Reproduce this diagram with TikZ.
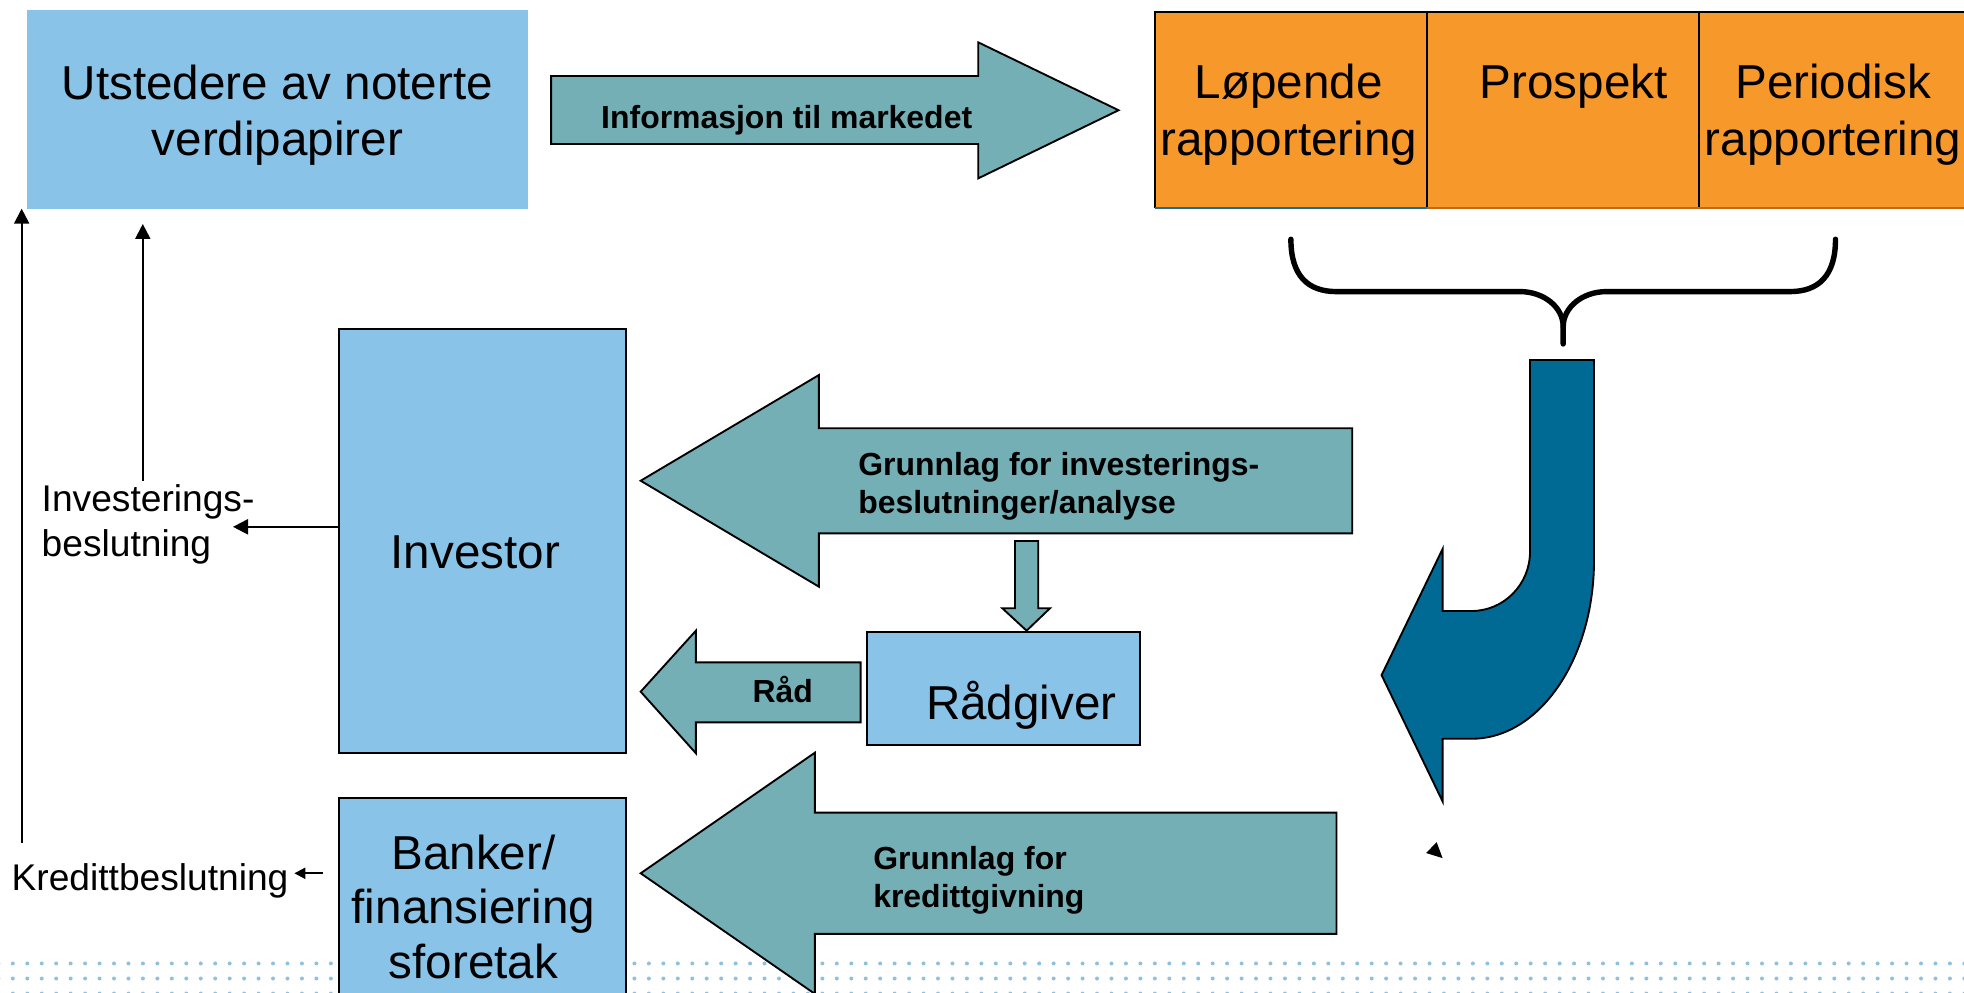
\documentclass[tikz,border=0pt]{standalone}
\usepackage{fontspec}
\setmainfont{Liberation Sans}
\usetikzlibrary{arrows.meta}
\definecolor{boxblue}{RGB}{137,195,232}
\definecolor{tealarrow}{RGB}{116,175,182}
\definecolor{orangebox}{RGB}{247,153,42}
\definecolor{darkarrow}{RGB}{0,105,148}
\definecolor{dotblue}{RGB}{143,192,222}
\definecolor{edgeblue}{RGB}{31,110,140}
\definecolor{edgeorange}{RGB}{196,104,20}
\newcommand{\bigfont}{\fontsize{22.8pt}{26.9pt}\selectfont}
\newcommand{\bankfont}{\fontsize{22.8pt}{26.1pt}\selectfont}
\newcommand{\boldfont}{\fontsize{15.3pt}{18.2pt}\selectfont\bfseries}
\newcommand{\smallfont}{\fontsize{17.8pt}{21.5pt}\selectfont}
\begin{document}
\begin{tikzpicture}[x=0.6pt,y=-0.6pt,
  txt/.style={inner sep=0pt,outer sep=0pt},
  ubox/.style={fill=boxblue,inner sep=0pt,outer sep=0pt},
  bbox/.style={fill=boxblue,draw=black,line width=0.9pt,inner sep=0pt,outer sep=0pt},
  obox/.style={fill=orangebox,inner sep=0pt,outer sep=0pt},
  tealshape/.style={fill=tealarrow,draw=black,line width=0.9pt,line join=miter},
  darkshape/.style={fill=darkarrow,draw=black,line width=0.9pt},
  thinarrow/.style={line width=1pt,-{Triangle[length=7.2pt,width=7.2pt]}},
  smallarrow/.style={line width=1pt,-{Triangle[length=5.3pt,width=5.3pt]}},
  bracestyle/.style={line width=2.6pt,line cap=round,line join=round}]
\useasboundingbox (0,0) rectangle (1568,792);
\clip (0,0) rectangle (1568,792);

% dotted background lines
\foreach \r in {769.2,781.2,793.2}{
  \foreach \i in {-1,...,135}{
    \fill[dotblue] ({10.24+\i*11.541},\r) circle[radius=0.96pt];
  }
}

% issuer box
\node[ubox,minimum width=240.06pt,minimum height=95.16pt] (ut) at (221.35,87.3) {};
\node[txt,anchor=base] (uttxt) at (221.5,79.3)
  {\bigfont\begin{tabular}[t]{@{}c@{}}Utstedere av noterte\\verdipapirer\end{tabular}};

% information arrow
\draw[tealshape] (440,60.7) -- (781,60.7) -- (781,33.8) -- (893,88) -- (781,142.4) -- (781,115) -- (440,115) -- cycle;
\node[txt,anchor=base west] (infotxt) at (480,102.5) {\boldfont Informasjon til markedet};

% orange cells
\node[obox,minimum width=130.5pt,minimum height=93.9pt] (c1) at (1030.75,88.05) {};
\node[obox,minimum width=130.26pt,minimum height=93.9pt] (c2) at (1248.05,88.05) {};
\node[obox,minimum width=130.44pt,minimum height=93.9pt] (c3) at (1465.3,88.05) {};
\draw[line width=0.9pt] (c1.south west) -- (c1.north west) -- (c3.north east);
\draw[line width=0.9pt] (c1.north east) -- (c1.south east);
\draw[line width=0.9pt] (c2.north east) -- (c2.south east);
\draw[edgeblue,line width=0.9pt] (c1.south west) -- (c1.south east);
\draw[edgeorange,line width=0.9pt] (c2.south west) -- (c3.south east);
\node[txt,anchor=base] (c1txt) at (1029,79)
  {\bigfont\begin{tabular}[t]{@{}c@{}}Løpende\\rapportering\end{tabular}};
\node[txt,anchor=base] (c2txt) at (1256.4,79) {\bigfont Prospekt};
\node[txt,anchor=base] (c3txt) at (1463.5,79)
  {\bigfont\begin{tabular}[t]{@{}c@{}}Periodisk\\rapportering\end{tabular}};

% brace
\draw[bracestyle] (1030.6,191) .. controls (1030.6,220) and (1044,232.8) .. (1067,232.8)
  -- (1213.5,232.8) .. controls (1232.6,232.8) and (1248,245.3) .. (1248,260.8) -- (1248,274.6);
\draw[bracestyle] (1465.4,191) .. controls (1465.4,220) and (1452,232.8) .. (1429,232.8)
  -- (1282.5,232.8) .. controls (1263.4,232.8) and (1248,245.3) .. (1248,260.8);

% dark curved arrow
\draw[darkshape] (1221.5,287.4) -- (1221.5,440.5)
  .. controls (1221.5,466.6) and (1200.6,487.8) .. (1174.9,487.8)
  -- (1151.7,487.8) -- (1151.7,438.3) -- (1103,539) -- (1151.7,639.8) -- (1151.7,589.8)
  -- (1174.9,589.8) .. controls (1228.9,589.8) and (1272.6,526.0) .. (1272.6,447.4)
  -- (1272.6,287.4) -- cycle;
\fill (1138.5,681) -- (1147,672.4) -- (1151.7,685.1) -- cycle;

% investor
\node[bbox,minimum width=137.46pt,minimum height=202.86pt] (inv) at (385.25,431.95) {};
\node[txt,anchor=base] (invtxt) at (379.5,454) {\bigfont Investor};

% grunnlag investering arrow
\draw[tealshape] (1079.6,341.9) -- (653.8,341.9) -- (653.8,299.4) -- (511.5,383.8) -- (653.8,468.4) -- (653.8,425.8) -- (1079.6,425.8) -- cycle;
\node[txt,anchor=base west] (g1txt) at (685.2,379.7)
  {\boldfont\begin{tabular}[t]{@{}l@{}}Grunnlag for investerings-\\beslutninger/analyse\end{tabular}};

% small down arrow
\draw[tealshape] (810.3,431.9) -- (828.9,431.9) -- (828.9,485.6) -- (838.3,485.6) -- (819.6,503.5) -- (800.2,485.6) -- (810.3,485.6) -- cycle;

% advisor
\node[bbox,minimum width=130.74pt,minimum height=54.3pt] (rad) at (801.35,549.55) {};
\node[txt,anchor=base west] (radtxt) at (739.3,574.3) {\bigfont Rådgiver};

% advice arrow
\draw[tealshape] (687.1,528.8) -- (555.6,528.8) -- (555.6,503.5) -- (511.5,552.2) -- (555.6,601.4) -- (555.6,576.7) -- (687.1,576.7) -- cycle;
\node[txt,anchor=base west] (raadtxt) at (600.9,561) {\boldfont Råd};

% banks
\node[bbox,minimum width=137.46pt,minimum height=97.8pt] (bank) at (385.25,718.5) {};
\node[txt,anchor=base] (banktxt) at (378,694)
  {\bankfont\begin{tabular}[t]{@{}c@{}}Banker/\\finansiering\\sforetak\end{tabular}};

% credit arrow
\draw[tealshape] (1067,648.8) -- (650.6,648.8) -- (650.6,600.9) -- (511.5,697.2) -- (650.6,793.5) -- (650.6,745.6) -- (1067,745.6) -- cycle;
\node[txt,anchor=base west] (g2txt) at (697.2,694)
  {\boldfont\begin{tabular}[t]{@{}l@{}}Grunnlag for\\kredittgivning\end{tabular}};

% decision labels
\node[txt,anchor=base west] (invlab) at (33.3,408.7)
  {\smallfont\begin{tabular}[t]{@{}l@{}}Investerings-\\beslutning\end{tabular}};
\node[txt,anchor=base west] (kredlab) at (9.3,710.6) {\smallfont Kredittbeslutning};

% thin connectors
\coordinate (kbot) at (17.3,673);
\coordinate (ktop) at (17.3,166.6);
\draw[thinarrow] (kbot) -- (ktop);
\coordinate (ibot) at (114,384);
\coordinate (itop) at (114,178.8);
\draw[thinarrow] (ibot) -- (itop);
\coordinate (invtip) at (186,420.6);
\draw[thinarrow] (inv.west |- invtip) -- (invtip);
\coordinate (kstart) at (258,697.2);
\coordinate (ktip) at (235,697.2);
\draw[smallarrow] (kstart) -- (ktip);
\end{tikzpicture}
\end{document}
